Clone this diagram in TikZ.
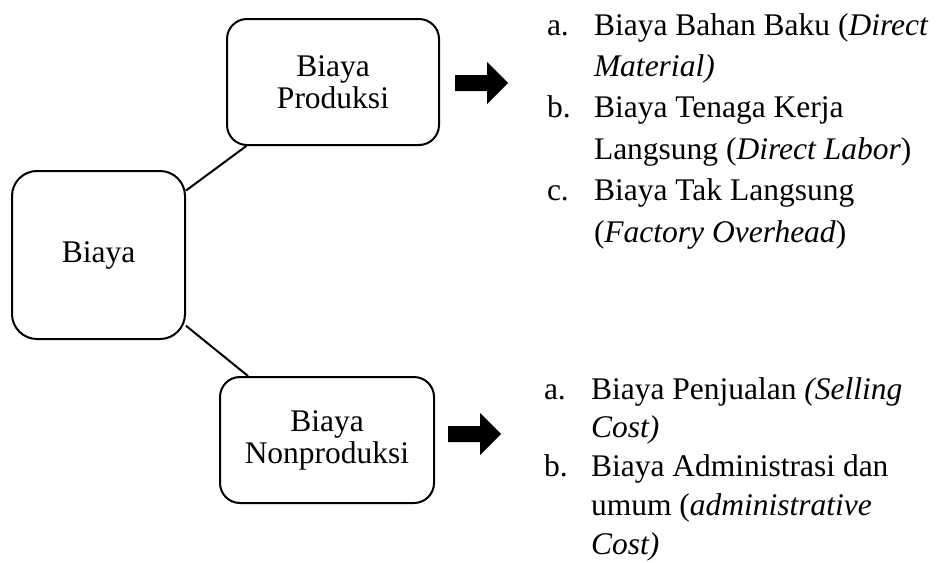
\documentclass[tikz,border=0pt]{standalone}
\usepackage{fontspec}
\setmainfont{Liberation Serif}
\usepackage{array}
\usetikzlibrary{positioning}

\begin{document}
\begin{tikzpicture}[x=0.5pt, y=-0.5pt, line width=1pt,
  box/.style={draw, rounded corners=10pt, align=center, inner sep=0pt,
    font=\fontsize{15.75}{16}\selectfont},
  itemlist/.style={anchor=base west, inner sep=0pt},
  blockarrow/.style={fill=black}]
\useasboundingbox (0,0) rectangle (936,562);

% boxes
\node[box, minimum width=86.5pt, minimum height=84pt, rounded corners=12.5pt] (Biaya) at (98.5,255) {Biaya};
\node[box, minimum width=106pt, minimum height=63pt] (Produksi) at (333,82) {Biaya\\Produksi};
\node[box, minimum width=107pt, minimum height=63pt] (Nonproduksi) at (327,440) {Biaya\\Nonproduksi};

% lines
\draw (Biaya) -- (Produksi);
\draw (Biaya) -- (Nonproduksi);

% block arrows
\coordinate (arrP) at (455,83);
\coordinate (arrN) at (448,434);
\fill[blockarrow] (arrP) ++(0,-8) -- ++(32,0) -- ++(0,-13) -- ++(21,21) -- ++(-21,21) -- ++(0,-13) -- ++(-32,0) -- cycle;
\fill[blockarrow] (arrN) ++(0,-8) -- ++(32,0) -- ++(0,-13) -- ++(21,21) -- ++(-21,21) -- ++(0,-13) -- ++(-32,0) -- cycle;

% lists
\node[itemlist] (listP) at (546,35) {\fontsize{15.75}{20.7}\selectfont
\begin{tabular}[t]{@{}p{23.5pt}@{}l@{}}
a. & Biaya Bahan Baku (\textit{Direct}\\
   & \textit{Material)}\\
b. & Biaya Tenaga Kerja\\
   & Langsung (\textit{Direct Labor})\\
c. & Biaya Tak Langsung\\
   & (\textit{Factory Overhead})
\end{tabular}};
\node[itemlist] (listN) at (543,399) {\fontsize{15.75}{19.4}\selectfont
\begin{tabular}[t]{@{}p{23.5pt}@{}l@{}}
a. & Biaya Penjualan \textit{(Selling}\\
   & \textit{Cost)}\\
b. & Biaya Administrasi dan\\
   & umum (\textit{administrative}\\
   & \textit{Cost)}
\end{tabular}};
\end{tikzpicture}
\end{document}
